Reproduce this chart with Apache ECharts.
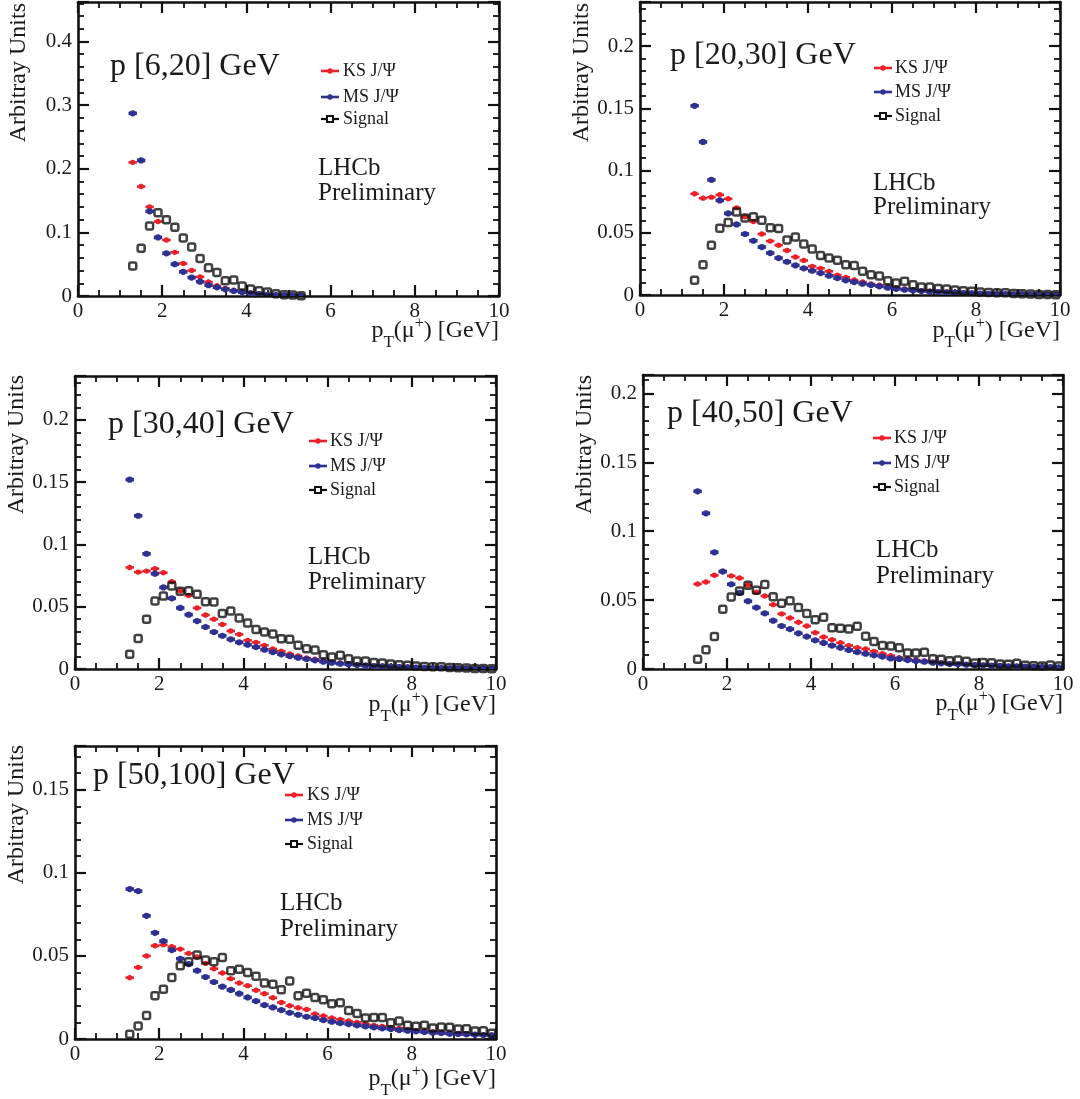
<!DOCTYPE html>
<html><head><meta charset="utf-8">
<script src="https://cdn.jsdelivr.net/npm/echarts@6/dist/echarts.min.js"></script>
<style>html,body{margin:0;padding:0;background:#fff}#c{width:1080px;height:1099px}</style>
</head><body><div id="c"></div>
<script>
// ---------------- DATA ----------------
const BIN_CENTERS = [1.3,1.5,1.7,1.9,2.1,2.3,2.5,2.7,2.9,3.1,3.3,3.5,3.7,3.9,4.1,4.3,4.5,4.7,4.9,5.1,5.3,5.5,5.7,5.9,6.1,6.3,6.5,6.7,6.9,7.1,7.3,7.5,7.7,7.9,8.1,8.3,8.5,8.7,8.9,9.1,9.3,9.5,9.7,9.9];
const SERIES_NAMES = ['KS J/\u03A8', 'MS J/\u03A8', 'Signal'];
const PANEL_LABELS = ['p [6,20] GeV', 'p [20,30] GeV', 'p [30,40] GeV', 'p [40,50] GeV', 'p [50,100] GeV'];
const X_TICK_STEP = 2;
const BIN_HALF_WIDTH = 0.1;

// p [6,20]
const KS_P1  = [0.210,0.172,0.140,0.117,0.088,0.0686,0.051,0.040,0.030,0.022,0.016,0.012,0.009,0.0063,0.0047,0.0037,0.0026,0.0016,0.001,0.0005,0.0003];
const MS_P1  = [0.287,0.213,0.133,0.092,0.067,0.050,0.038,0.029,0.0225,0.017,0.0136,0.0105,0.008,0.006,0.0042,0.003,0.002,0.0016,0.001,0.0006,0.0004];
const SIG_P1 = [0.047,0.075,0.110,0.131,0.120,0.108,0.091,0.077,0.059,0.0445,0.037,0.024,0.025,0.0157,0.011,0.0084,0.0063,0.0037,0.002,0.0016,0.0005];
// p [20,30]
const KS_P2  = [0.0813,0.0778,0.0786,0.0805,0.0773,0.070,0.0628,0.059,0.049,0.0433,0.040,0.0358,0.0305,0.0278,0.023,0.0214,0.019,0.016,0.0142,0.012,0.0104,0.0088,0.0078,0.0067,0.0056,0.0048,0.004,0.0035,0.003,0.0027,0.0024,0.0021,0.0019,0.0016,0.0013,0.0011,0.001,0.0008,0.0007,0.0006,0.0005,0.0004,0.0003,0.0003];
const MS_P2  = [0.152,0.123,0.0925,0.076,0.0655,0.0567,0.049,0.0436,0.0385,0.0337,0.0297,0.0267,0.0238,0.0214,0.0195,0.0176,0.0155,0.0136,0.0118,0.0104,0.0091,0.008,0.007,0.0059,0.005,0.0043,0.0037,0.0032,0.0027,0.0024,0.0021,0.0019,0.0016,0.0013,0.0011,0.001,0.0008,0.0007,0.0006,0.0005,0.0004,0.0003,0.0003,0.0002];
const SIG_P2 = [0.0118,0.0243,0.040,0.0537,0.0583,0.0666,0.0618,0.0628,0.060,0.054,0.0535,0.0441,0.0465,0.041,0.0369,0.0318,0.0297,0.028,0.0243,0.0238,0.019,0.0163,0.0152,0.0115,0.0096,0.011,0.0083,0.0064,0.0064,0.0053,0.0048,0.004,0.0035,0.003,0.0024,0.0021,0.0019,0.0019,0.0013,0.0011,0.0008,0.0005,0.0005,0.0003];
// p [30,40]
const KS_P3  = [0.0815,0.0778,0.0786,0.0805,0.0773,0.070,0.0628,0.059,0.049,0.0433,0.040,0.0358,0.0305,0.0278,0.023,0.0214,0.019,0.016,0.0142,0.012,0.0104,0.0088,0.0078,0.0067,0.0056,0.0048,0.004,0.0035,0.003,0.0027,0.0024,0.0021,0.0019,0.0016,0.0013,0.0011,0.001,0.0008,0.0007,0.0006,0.0005,0.0004,0.0003,0.0003];
const MS_P3  = [0.152,0.123,0.0925,0.0765,0.0655,0.0567,0.049,0.0436,0.0385,0.0337,0.0297,0.0267,0.0238,0.0214,0.0195,0.0176,0.0155,0.0136,0.0118,0.0104,0.0091,0.008,0.007,0.0059,0.005,0.0043,0.0037,0.0032,0.0027,0.0024,0.0021,0.0019,0.0016,0.0013,0.0011,0.001,0.0008,0.0007,0.0006,0.0005,0.0004,0.0003,0.0003,0.0002];
const SIG_P3 = [0.0118,0.0245,0.040,0.0545,0.0585,0.0666,0.0625,0.0628,0.060,0.054,0.0538,0.0445,0.0465,0.041,0.0369,0.0318,0.0297,0.028,0.0243,0.0238,0.019,0.0163,0.0152,0.0115,0.0096,0.011,0.0083,0.0064,0.0064,0.0053,0.0048,0.004,0.0035,0.003,0.0024,0.0021,0.0019,0.0019,0.0013,0.0011,0.0008,0.0005,0.0005,0.0003];
// p [40,50]
const KS_P4  = [0.0617,0.0632,0.068,0.071,0.0676,0.066,0.0608,0.0557,0.053,0.0467,0.040,0.037,0.0339,0.0312,0.0264,0.0232,0.0213,0.019,0.017,0.0155,0.0145,0.0128,0.0111,0.0097,0.0082,0.0073,0.0065,0.0058,0.0051,0.0046,0.0041,0.0036,0.0034,0.0031,0.0027,0.0024,0.0022,0.0019,0.0019,0.0017,0.0015,0.0014,0.0012,0.0012];
const MS_P4  = [0.129,0.113,0.0847,0.0707,0.0615,0.0552,0.0492,0.0446,0.0404,0.0351,0.0312,0.029,0.0259,0.0235,0.0208,0.0189,0.017,0.0155,0.0138,0.0123,0.0111,0.0099,0.009,0.0077,0.0073,0.0065,0.0058,0.0053,0.0046,0.0041,0.0036,0.0034,0.0031,0.0029,0.0027,0.0024,0.0022,0.0019,0.0019,0.0017,0.0015,0.0014,0.0014,0.0012];
const SIG_P4 = [0.007,0.014,0.0235,0.0433,0.0523,0.0567,0.0608,0.0571,0.0613,0.0525,0.0477,0.0496,0.0446,0.0402,0.0358,0.0375,0.030,0.0295,0.029,0.031,0.0237,0.020,0.017,0.0167,0.0155,0.0116,0.0116,0.0121,0.0075,0.007,0.006,0.0065,0.0056,0.0044,0.0048,0.0046,0.0036,0.0034,0.0041,0.0027,0.0024,0.0022,0.0029,0.0022];
// p [50,100]
const KS_P5  = [0.0369,0.0431,0.050,0.0561,0.0567,0.0555,0.0541,0.0515,0.0493,0.0455,0.0423,0.0397,0.0363,0.0337,0.0321,0.0293,0.0273,0.0248,0.022,0.020,0.0188,0.0178,0.015,0.0138,0.0126,0.0118,0.0108,0.010,0.009,0.0082,0.0076,0.007,0.0064,0.0058,0.0052,0.0048,0.0044,0.004,0.0036,0.0034,0.003,0.0028,0.0026,0.0024];
const MS_P5  = [0.0902,0.089,0.0741,0.0639,0.0589,0.0535,0.0483,0.0451,0.0411,0.0373,0.0343,0.0315,0.0295,0.0273,0.025,0.0228,0.0204,0.019,0.0174,0.0158,0.0146,0.0134,0.0126,0.0114,0.0104,0.0096,0.009,0.0082,0.0076,0.007,0.0064,0.006,0.0054,0.005,0.0046,0.0042,0.0038,0.0036,0.0032,0.003,0.0028,0.0026,0.0024,0.0022];
const SIG_P5 = [0.0028,0.0078,0.0142,0.026,0.030,0.037,0.044,0.0465,0.0505,0.0475,0.0465,0.049,0.041,0.042,0.040,0.0377,0.0337,0.0329,0.0297,0.0349,0.026,0.0275,0.025,0.0236,0.0212,0.0218,0.0172,0.0154,0.0126,0.013,0.013,0.0098,0.0108,0.0082,0.0076,0.0082,0.0066,0.0072,0.007,0.006,0.0062,0.0048,0.005,0.0034];

const Y_MAX = [0.462, 0.2354, 0.2352, 0.2134, 0.1763];
const Y_INTERVAL = [0.1, 0.05, 0.05, 0.05, 0.05];

// ---------------- LAYOUT / STYLE ----------------
const FONT = '"Liberation Serif", "DejaVu Serif", serif';
const TEXT_COLOR = '#1a1a1a';
const COLORS = ['#ec2127', '#2e3192', '#111111'];
const LAYOUT = [
  {grid:[78,2,421,294],   title:[110,67],  leg:[321,343,[71,97,119]],   lhcb:[318,168,193], ytitle:[19,3],    xtitle:[499,331]},
  {grid:[640,2,420,293],  title:[670,56],  leg:[874,895,[68,92,116]],   lhcb:[873,183,207], ytitle:[582,3],   xtitle:[1060,331]},
  {grid:[75,376,421,293], title:[108,425], leg:[309,330,[441,466,490]], lhcb:[308,557,582], ytitle:[17,375],  xtitle:[496,705]},
  {grid:[643,375,420,294],title:[667,414], leg:[873,894,[438,463,487]], lhcb:[876,550,576], ytitle:[585,375], xtitle:[1063,704]},
  {grid:[75,746,421,293], title:[93,776],  leg:[285,307,[795,820,844]], lhcb:[280,903,929], ytitle:[17,745],  xtitle:[496,1079]}
];
const PANEL_DATA = [
  [KS_P1, MS_P1, SIG_P1],
  [KS_P2, MS_P2, SIG_P2],
  [KS_P3, MS_P3, SIG_P3],
  [KS_P4, MS_P4, SIG_P4],
  [KS_P5, MS_P5, SIG_P5]
];

function pairs(vals){ return vals.map((v,i)=>[BIN_CENTERS[i], v]); }

function axisCommon(){
  return {
    axisLine:{show:true, onZero:false, lineStyle:{color:'#111', width:2.6}},
    axisTick:{show:true, inside:true, length:11, lineStyle:{color:'#111', width:2.2}},
    minorTick:{show:true, length:6, lineStyle:{color:'#111', width:1.8}},
    splitLine:{show:false}, minorSplitLine:{show:false}
  };
}
function xAxisFor(gi, pos, show){
  const a = axisCommon();
  a.minorTick.splitNumber = 4;
  return Object.assign(a, {type:'value', gridIndex:gi, position:pos, min:0, max:10, interval:X_TICK_STEP,
    axisLabel:{show:show, margin:5, color:TEXT_COLOR, fontFamily:FONT, fontSize:21}});
}
function yAxisFor(gi, pos, show){
  const a = axisCommon();
  a.minorTick.splitNumber = 5;
  return Object.assign(a, {type:'value', gridIndex:gi, position:pos, min:0, max:Y_MAX[gi], interval:Y_INTERVAL[gi],
    axisLabel:{show:show, margin:6, color:TEXT_COLOR, fontFamily:FONT, fontSize:21, showMaxLabel:false}});
}

function errRender(color, lw, r){
  return function(params, api){
    const x = api.value(0), y = api.value(1);
    const c = api.coord([x, y]);
    const l = api.coord([x - BIN_HALF_WIDTH, y]);
    const rr = api.coord([x + BIN_HALF_WIDTH, y]);
    return {type:'group', children:[
      {type:'line', shape:{x1:l[0], y1:l[1], x2:rr[0], y2:rr[1]}, style:{stroke:color, lineWidth:lw}},
      {type:'circle', shape:{cx:c[0], cy:c[1], r:r}, style:{fill:color}}
    ]};
  };
}

const grids = [], xAxes = [], yAxes = [], series = [], graphics = [];
LAYOUT.forEach((L, gi) => {
  grids.push({left:L.grid[0], top:L.grid[1], width:L.grid[2], height:L.grid[3], containLabel:false, outerBoundsMode:'none'});
  xAxes.push(xAxisFor(gi, 'bottom', true));
  xAxes.push(xAxisFor(gi, 'top', false));
  yAxes.push(yAxisFor(gi, 'left', true));
  yAxes.push(yAxisFor(gi, 'right', false));
  const [ks, ms, sig] = PANEL_DATA[gi];
  series.push({type:'custom', name:SERIES_NAMES[0], xAxisIndex:2*gi, yAxisIndex:2*gi, data:pairs(ks),
    encode:{x:0, y:1}, renderItem:errRender(COLORS[0], 2.6, 2.7), clip:true, silent:true});
  series.push({type:'custom', name:SERIES_NAMES[1], xAxisIndex:2*gi, yAxisIndex:2*gi, data:pairs(ms),
    encode:{x:0, y:1}, renderItem:errRender(COLORS[1], 3.6, 3.1), clip:true, silent:true});
  series.push({type:'scatter', name:SERIES_NAMES[2], xAxisIndex:2*gi, yAxisIndex:2*gi, data:pairs(sig),
    symbol:'roundRect', symbolSize:7, itemStyle:{color:'rgba(255,255,255,0)', borderColor:COLORS[2], borderWidth:2.5},
    silent:true, animation:false});

  // panel label
  graphics.push({type:'text', x:L.title[0], y:L.title[1], style:{text:PANEL_LABELS[gi], font:'32px ' + FONT, fill:TEXT_COLOR, align:'left', verticalAlign:'middle'}});
  // legend
  const [mx, tx, ys] = L.leg;
  SERIES_NAMES.forEach((nm, si) => {
    const y = ys[si];
    graphics.push({type:'line', shape:{x1:mx, y1:y, x2:mx+18, y2:y}, style:{stroke:COLORS[si], lineWidth:si===2?2.2:2.6}});
    if (si < 2) graphics.push({type:'circle', shape:{cx:mx+9, cy:y, r:2.7}, style:{fill:COLORS[si]}});
    else graphics.push({type:'rect', shape:{x:mx+6, y:y-3, width:6, height:6}, style:{fill:'#fff', stroke:COLORS[2], lineWidth:2}});
    graphics.push({type:'text', x:tx, y:y, style:{text:nm, font:'18px ' + FONT, fill:TEXT_COLOR, align:'left', verticalAlign:'middle'}});
  });
  // LHCb Preliminary
  graphics.push({type:'text', x:L.lhcb[0], y:L.lhcb[1], style:{text:'LHCb', font:'25px ' + FONT, fill:TEXT_COLOR, align:'left', verticalAlign:'middle'}});
  graphics.push({type:'text', x:L.lhcb[0], y:L.lhcb[2], style:{text:'Preliminary', font:'25px ' + FONT, fill:TEXT_COLOR, align:'left', verticalAlign:'middle'}});
  // y title
  graphics.push({type:'text', x:L.ytitle[0], y:L.ytitle[1], rotation:Math.PI/2,
    style:{text:'Arbitray Units', font:'24px ' + FONT, fill:TEXT_COLOR, align:'right', verticalAlign:'middle'}});
  // x title
  graphics.push({type:'text', x:L.xtitle[0], y:L.xtitle[1],
    style:{text:'{m|p}{s|T}{m|(\u03BC}{u|+}{m|) [GeV]}', align:'right', verticalAlign:'middle', fill:TEXT_COLOR,
      rich:{
        m:{fontFamily:FONT, fontSize:24, lineHeight:41, verticalAlign:'middle', fill:TEXT_COLOR},
        s:{fontFamily:FONT, fontSize:17, lineHeight:17, verticalAlign:'bottom', fill:TEXT_COLOR},
        u:{fontFamily:FONT, fontSize:16, lineHeight:16, verticalAlign:'top', padding:[5,0,0,0], fill:TEXT_COLOR}
      }}});
});

const chart = echarts.init(document.getElementById('c'), null, {renderer:'canvas'});
chart.setOption({
  animation:false,
  backgroundColor:'#fff',
  grid:grids, xAxis:xAxes, yAxis:yAxes, series:series,
  graphic:{elements:graphics}
});
</script></body></html>
